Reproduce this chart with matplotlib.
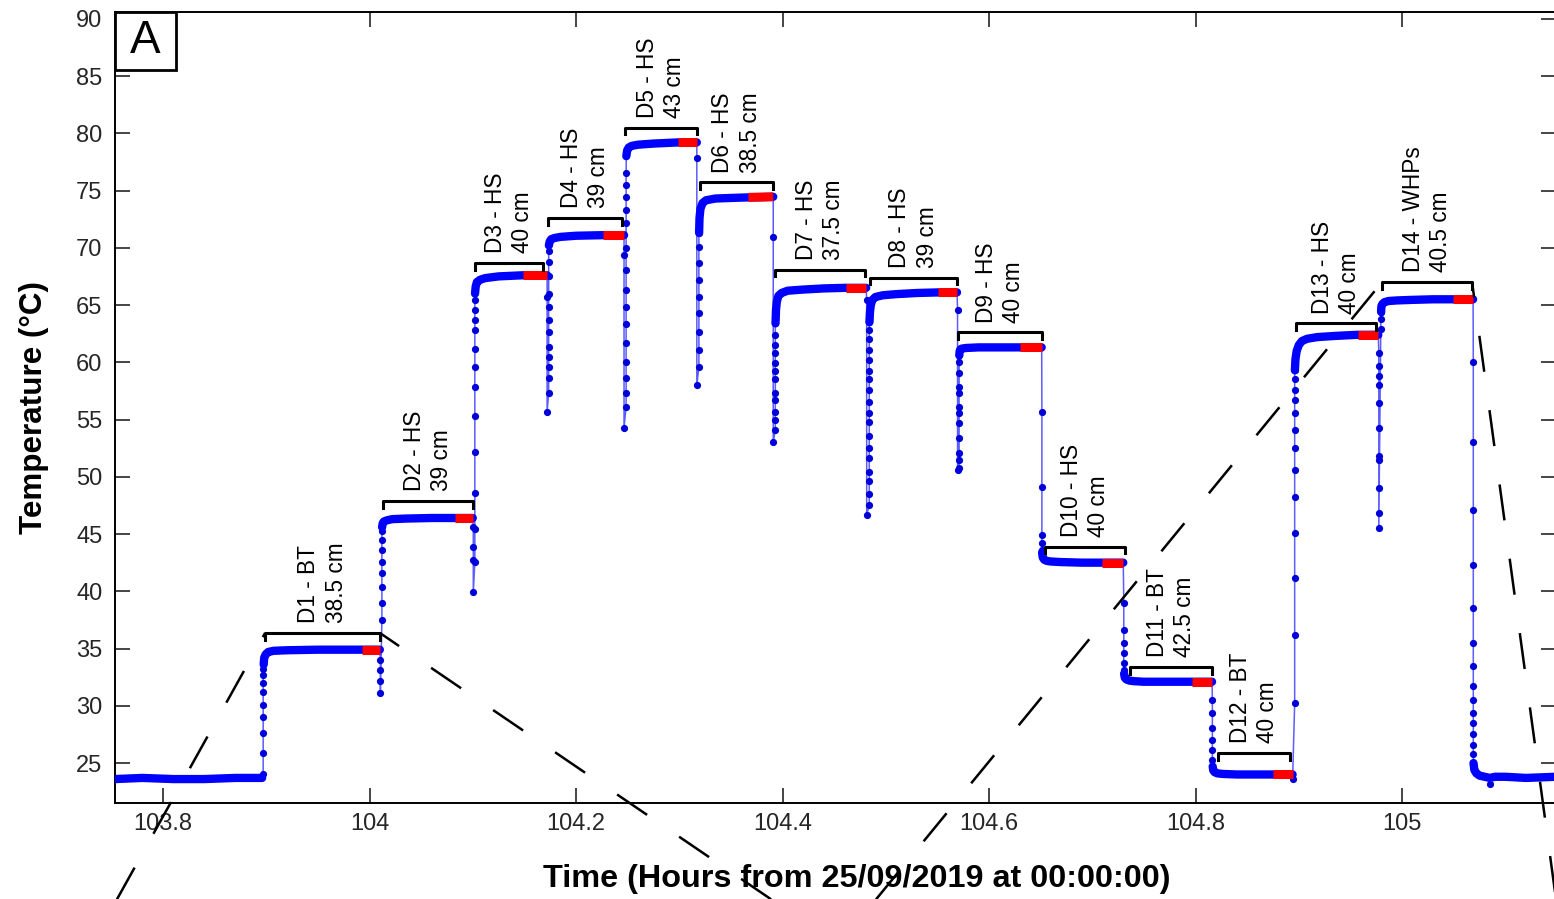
import numpy as np
import matplotlib.pyplot as plt
from matplotlib.patches import Rectangle

plt.rcParams['font.family'] = ['Liberation Sans', 'DejaVu Sans']

# bath labels
bath_names = ['D1 - BT', 'D2 - HS', 'D3 - HS', 'D4 - HS', 'D5 - HS', 'D6 - HS', 'D7 - HS',
              'D8 - HS', 'D9 - HS', 'D10 - HS', 'D11 - BT', 'D12 - BT', 'D13 - HS', 'D14 - WHPs']
bath_depths = ['38.5 cm', '39 cm', '40 cm', '39 cm', '43 cm', '38.5 cm', '37.5 cm',
               '39 cm', '40 cm', '40 cm', '42.5 cm', '40 cm', '40 cm', '40.5 cm']

# bracket over each bath period (hours) and its level (degC)
bracket_start = [103.8988, 104.0131, 104.1022, 104.1729, 104.2475, 104.3201, 104.3927,
                 104.4848, 104.5700, 104.6542, 104.7366, 104.8218, 104.8973, 104.9806]
bracket_end = [104.0102, 104.1002, 104.1680, 104.2446, 104.3172, 104.3908, 104.4799,
               104.5690, 104.6513, 104.7317, 104.8160, 104.8915, 104.9748, 105.0678]
bracket_level = [36.35, 47.9, 68.7, 72.6, 80.5, 75.7, 68.1, 67.4, 62.6, 43.9, 33.4, 25.9, 63.4, 67.0]

# start of the red (averaging) window in each bath
red_start = [103.993, 104.083, 104.149, 104.226, 104.299, 104.367, 104.461,
             104.5506, 104.630, 104.7095, 104.7966, 104.875, 104.957, 105.049]

# stable parts of the record (dense samples), baseline + 14 baths + final
plateau_t = [
    [103.7535, 103.78, 103.81, 103.84, 103.87, 103.896],
    [103.8975, 103.898, 103.8995, 103.902, 103.907, 103.92, 103.95, 103.993, 104.010],
    [104.0122, 104.0128, 104.014, 104.017, 104.022, 104.035, 104.06, 104.083, 104.100],
    [104.1022, 104.1028, 104.104, 104.107, 104.112, 104.125, 104.149, 104.172],
    [104.1737, 104.1745, 104.176, 104.179, 104.185, 104.20, 104.226, 104.2465],
    [104.2487, 104.2495, 104.251, 104.254, 104.26, 104.275, 104.299, 104.317],
    [104.3192, 104.3196, 104.3205, 104.3225, 104.326, 104.335, 104.35, 104.367, 104.391],
    [104.3932, 104.3937, 104.3945, 104.396, 104.399, 104.405, 104.42, 104.44, 104.461, 104.481],
    [104.4842, 104.4847, 104.4855, 104.487, 104.49, 104.497, 104.51, 104.53, 104.5506, 104.569],
    [104.5712, 104.5716, 104.5725, 104.574, 104.578, 104.59, 104.61, 104.630, 104.651],
    [104.6514, 104.652, 104.6535, 104.656, 104.66, 104.67, 104.69, 104.7095, 104.730],
    [104.7308, 104.7315, 104.733, 104.736, 104.74, 104.75, 104.77, 104.7966, 104.816],
    [104.8166, 104.8172, 104.8185, 104.821, 104.826, 104.84, 104.86, 104.875, 104.894],
    [104.8962, 104.8968, 104.898, 104.900, 104.903, 104.908, 104.918, 104.935, 104.957, 104.977],
    [104.9797, 104.980, 104.981, 104.983, 104.987, 104.995, 105.01, 105.03, 105.049, 105.0688],
    [105.0692, 105.070, 105.072, 105.075, 105.08, 105.085, 105.09, 105.10, 105.12, 105.1491],
]
plateau_T = [
    [23.6, 23.7, 23.6, 23.6, 23.7, 23.7],
    [33.6, 34.2, 34.5, 34.7, 34.8, 34.85, 34.9, 34.9, 34.9],
    [45.6, 45.95, 46.1, 46.2, 46.3, 46.35, 46.4, 46.4, 46.4],
    [66.0, 66.6, 67.0, 67.2, 67.35, 67.5, 67.6, 67.6],
    [70.2, 70.55, 70.75, 70.85, 70.95, 71.05, 71.1, 71.1],
    [78.0, 78.5, 78.75, 78.9, 79.0, 79.1, 79.2, 79.2],
    [71.3, 72.6, 73.4, 73.9, 74.15, 74.3, 74.35, 74.4, 74.45],
    [63.4, 64.6, 65.3, 65.8, 66.05, 66.25, 66.35, 66.45, 66.5, 66.5],
    [63.5, 64.4, 65.0, 65.45, 65.7, 65.85, 65.95, 66.05, 66.1, 66.1],
    [60.6, 61.0, 61.15, 61.2, 61.25, 61.3, 61.3, 61.3, 61.3],
    [43.4, 42.95, 42.75, 42.65, 42.6, 42.55, 42.5, 42.5, 42.5],
    [32.8, 32.45, 32.3, 32.2, 32.15, 32.1, 32.1, 32.1, 32.1],
    [24.7, 24.35, 24.2, 24.1, 24.05, 24.0, 24.0, 24.0, 24.0],
    [59.3, 60.3, 61.0, 61.5, 61.85, 62.05, 62.2, 62.3, 62.4, 62.4],
    [64.4, 64.9, 65.1, 65.25, 65.35, 65.4, 65.45, 65.5, 65.5, 65.5],
    [25.0, 24.4, 24.1, 23.9, 23.8, 23.7, 23.8, 23.8, 23.7, 23.8],
]

# samples while the probe moves between baths
transfer_t = [
    [103.897] * 9,
    [104.0105] * 4 + [104.012] * 8,
    [104.1005] * 4 + [104.102] * 12,
    [104.172] * 2 + [104.1735] * 12,
    [104.2465] * 2 + [104.2485] * 15,
    [104.317] * 2 + [104.319] * 9,
    [104.391] * 2 + [104.393] * 12,
    [104.4815] * 2 + [104.484] * 18,
    [104.5695] * 2 + [104.571] * 12,
    [104.6512] * 5,
    [104.7305] * 6,
    [104.8163] * 6,
    [104.894] + [104.896] * 13,
    [104.9775] * 11 + [104.9795] * 4,
    [105.069] * 14,
]
transfer_T = [
    [24.0, 25.9, 27.6, 29.0, 30.1, 31.2, 32.0, 32.7, 33.2],
    [34.0, 33.1, 32.2, 31.1, 37.5, 39.0, 40.4, 41.6, 42.6, 43.6, 44.5, 45.3],
    [45.6, 43.9, 42.7, 39.9, 42.6, 45.4, 48.6, 52.2, 55.3, 57.8, 59.6, 61.2, 62.8, 63.7, 64.6, 65.4],
    [65.7, 55.7, 57.3, 58.6, 59.6, 60.5, 61.3, 62.6, 63.7, 64.8, 66.0, 67.5, 68.8, 69.7],
    [69.4, 54.3, 56.1, 57.3, 58.6, 60.0, 61.7, 63.3, 64.8, 66.3, 68.1, 70.0, 72.2, 73.3, 74.4, 75.5, 76.5],
    [77.8, 58.0, 59.6, 61.1, 62.6, 64.3, 65.7, 67.2, 68.7, 70.1, 71.3],
    [70.9, 53.0, 54.1, 55.0, 55.7, 56.7, 57.3, 58.5, 59.2, 59.9, 60.8, 61.5, 62.4, 63.4],
    [65.4, 46.7, 47.5, 48.5, 49.6, 50.4, 51.6, 52.5, 53.6, 54.8, 55.6, 56.5, 57.6, 58.5, 59.2,
     60.2, 61.1, 62.0, 62.8, 63.5],
    [64.6, 50.6, 50.8, 51.5, 52.1, 53.4, 54.7, 55.6, 56.1, 57.3, 57.8, 59.1, 60.0, 60.6],
    [55.7, 49.1, 44.9, 44.2, 43.6],
    [39.0, 36.6, 35.5, 34.6, 33.7, 33.1],
    [30.5, 29.4, 28.1, 27.0, 26.1, 25.3],
    [23.6, 30.2, 36.2, 41.2, 45.1, 48.2, 50.6, 52.5, 54.1, 55.6, 56.7, 57.6, 58.5, 59.3],
    [60.8, 59.7, 58.8, 58.0, 56.4, 54.3, 51.8, 51.5, 49.0, 46.8, 45.5, 62.9, 63.8, 64.4, 64.4],
    [60.0, 53.0, 47.1, 42.3, 38.5, 35.5, 33.5, 31.7, 30.5, 29.4, 28.5, 27.5, 26.6, 25.8],
]

# single low sample just after the last bath
dip_t = [105.085]
dip_T = [23.2]

# ends of the zoom lines that lead to the panel below
zoom_foot_t = [103.7554, 104.3889, 104.4906, 105.1491]
zoom_foot_T = 13.1

fig = plt.figure(figsize=(15.54, 8.99), dpi=100)
ax = fig.add_axes([115 / 1554, 96 / 899, 1441 / 1554, 791 / 899])

# full record as a thin line
all_t, all_T = [], []
for i in range(len(plateau_t)):
    all_t += plateau_t[i]
    all_T += plateau_T[i]
    if i < len(transfer_t):
        all_t += transfer_t[i]
        all_T += transfer_T[i]
ax.plot(all_t, all_T, color='#5c5cff', lw=1.1, zorder=2)

# individual samples during transfers
for tt, TT in zip(transfer_t, transfer_T):
    ax.plot(tt, TT, 'o', color='#0000d8', ms=5.2, mec='none', zorder=3)
ax.plot(dip_t, dip_T, 'o', color='#0000d8', ms=5.2, mec='none', zorder=3)

# dense plateaus
for tt, TT in zip(plateau_t, plateau_T):
    ax.plot(tt, TT, color='#0000ff', lw=6, solid_capstyle='round', zorder=3)

# red windows
for k in range(len(red_start)):
    tt = np.array(plateau_t[k + 1])
    TT = np.array(plateau_T[k + 1])
    sel = tt >= red_start[k] - 1e-9
    ax.plot(tt[sel], TT[sel], color='#ff0000', lw=6.5, solid_capstyle='butt', zorder=4)

# brackets and labels
for k in range(len(bath_names)):
    x0, x1, y = bracket_start[k], bracket_end[k], bracket_level[k]
    ax.plot([x0, x0, x1, x1], [y - 0.6, y, y, y - 0.6], color='black', lw=2.2, zorder=5)
    ax.text((x0 + x1) / 2, y + 0.85, bath_names[k] + '\n' + bath_depths[k], rotation=90,
            ha='center', va='bottom', multialignment='left', fontsize=16.3,
            linespacing=1.25, zorder=6)

# zoom lines
zoom_from = [(bracket_start[0], bracket_level[0]), (bracket_end[0], bracket_level[0]),
             (bracket_start[13], bracket_level[13]), (bracket_end[13], bracket_level[13])]
for (x0, y0), xf in zip(zoom_from, zoom_foot_t):
    ax.plot([xf, x0], [zoom_foot_T, y0], color='black', lw=1.8,
            linestyle=(0, (14.5, 15.5)), clip_on=False, zorder=7)

ax.set_xlim(103.7535, 105.1491)
ax.set_ylim(21.51, 90.59)
ax.set_xticks(np.arange(103.8, 105.01, 0.2))
ax.set_xticklabels(['103.8', '104', '104.2', '104.4', '104.6', '104.8', '105'])
ax.set_yticks(np.arange(25, 91, 5))
ax.tick_params(direction='in', length=11, width=1.2, top=True, right=True,
               labelsize=17, colors='#262626')
ax.tick_params(axis='x', pad=7)
ax.tick_params(axis='y', pad=9)
for s in ax.spines.values():
    s.set_linewidth(1.4)

ax.set_xlabel('Time (Hours from 25/09/2019 at 00:00:00)', fontsize=23.3, fontweight='bold')
ax.set_ylabel('Temperature (°C)', fontsize=22.6, fontweight='bold')
ax.xaxis.set_label_coords(0.515, -0.077)
ax.yaxis.set_label_coords(-0.046, 0.5)

# panel letter
ax.add_patch(Rectangle((0, 1 - 0.0733), 0.0423, 0.0733, transform=ax.transAxes,
                       facecolor='white', edgecolor='black', lw=2, zorder=8))
ax.text(0.0423 / 2, 1 - 0.0733 / 2, 'A', transform=ax.transAxes, ha='center',
        va='center', fontsize=33, zorder=9)

fig.savefig('out.png', dpi=100)
